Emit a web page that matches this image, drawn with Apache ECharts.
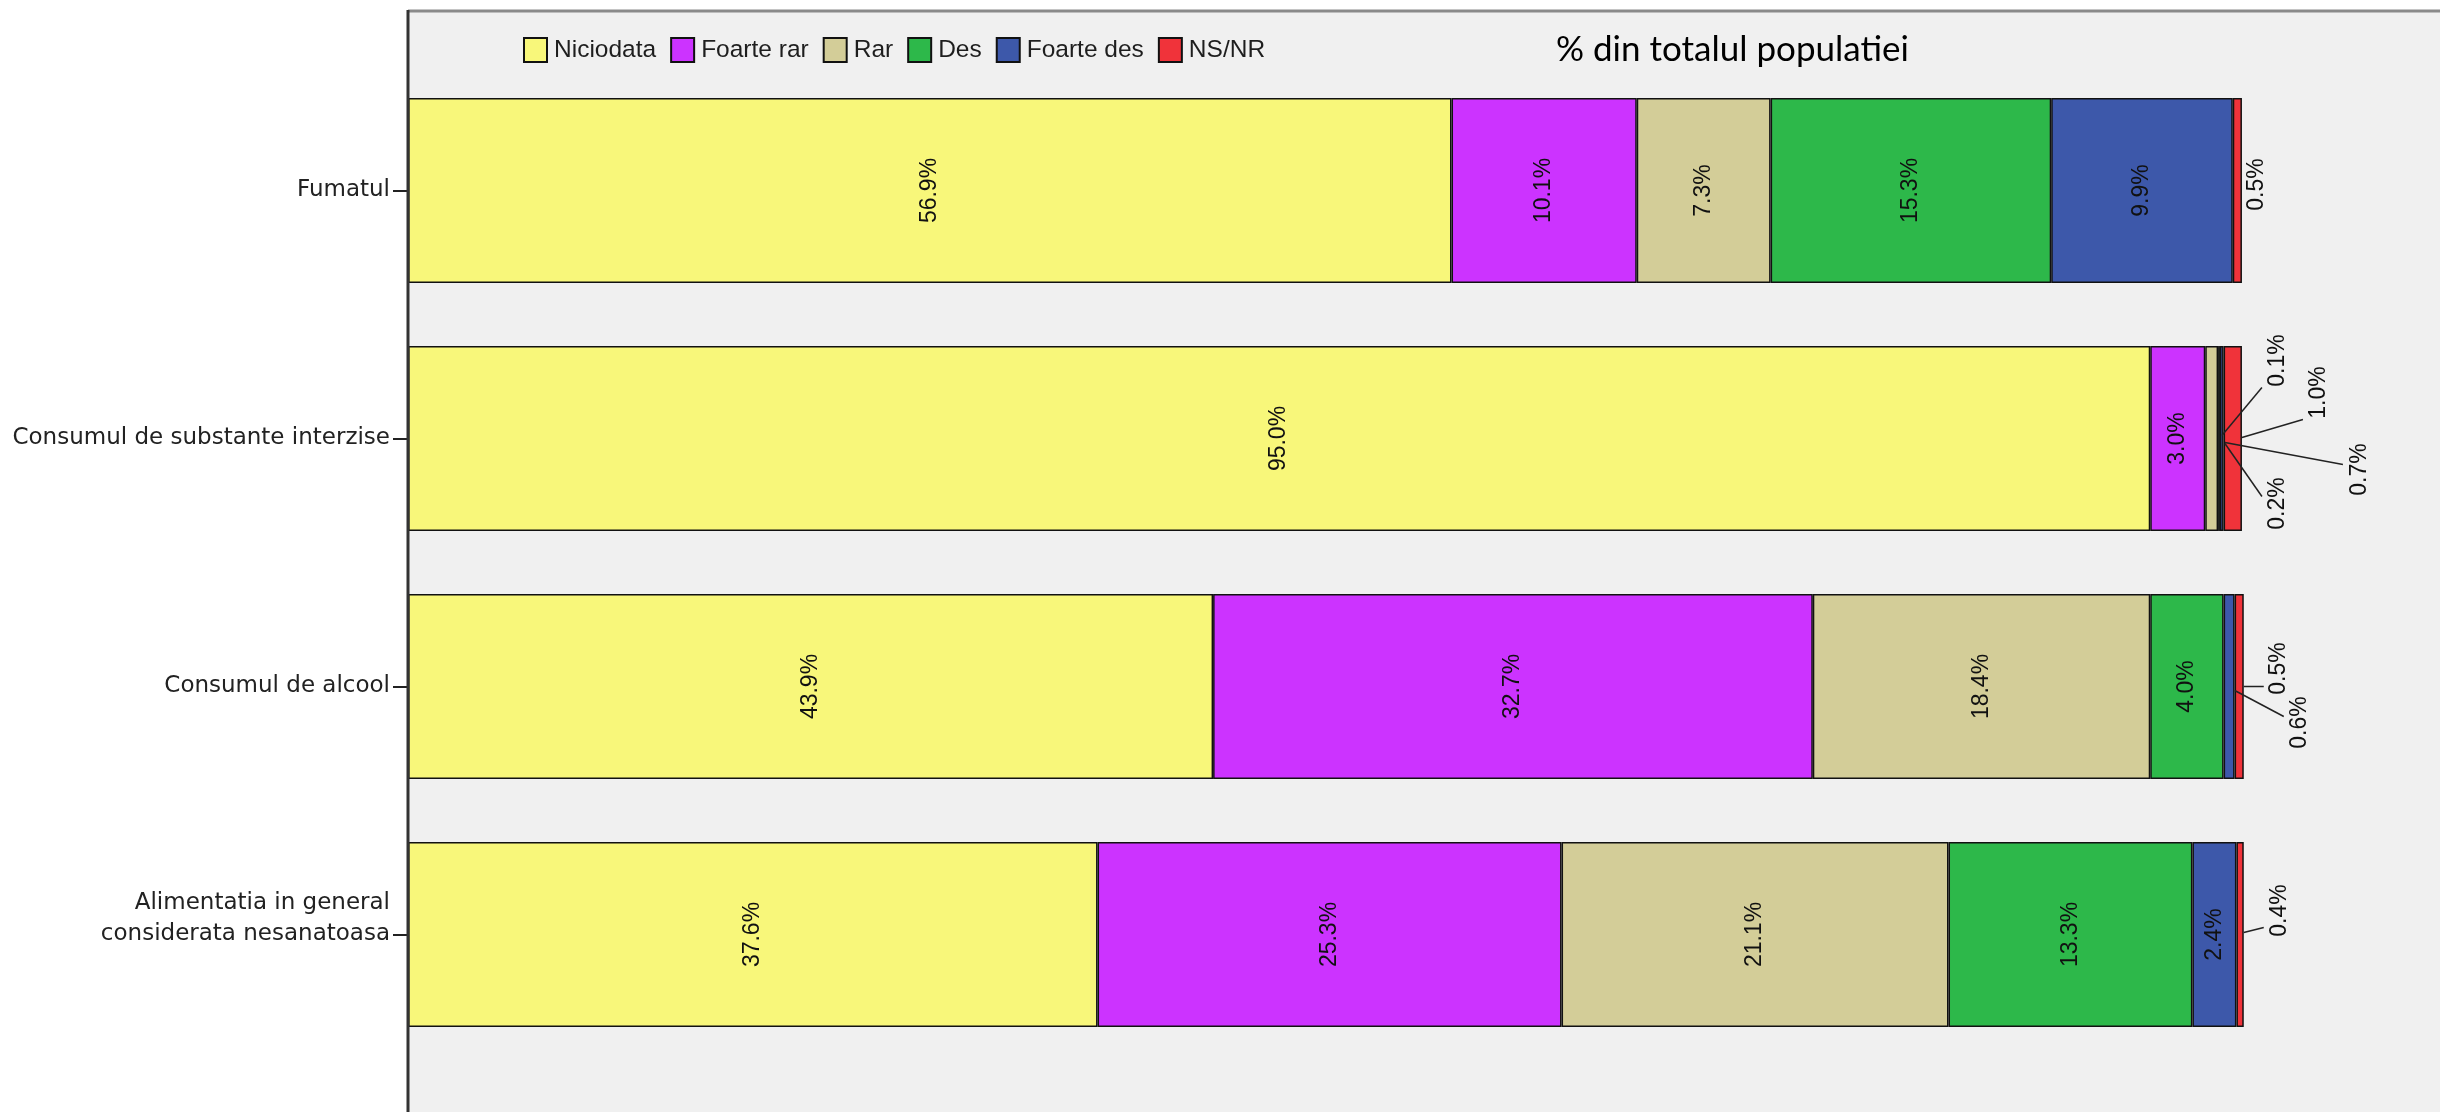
<!DOCTYPE html>
<html>
<head>
<meta charset="utf-8">
<script src="https://cdn.jsdelivr.net/npm/echarts@6/dist/echarts.min.js"></script>
<style>
  html, body { margin: 0; padding: 0; background: #ffffff; }
  #chart { width: 2440px; height: 1112px; }
</style>
</head>
<body>
<div id="chart"></div>
<script>
// ---- data ----
const categories = [
  'Fumatul',
  'Consumul de substante interzise',
  'Consumul de alcool',
  'Alimentatia in general\nconsiderata nesanatoasa'
];
const seriesNames = ['Niciodata', 'Foarte rar', 'Rar', 'Des', 'Foarte des', 'NS/NR'];
const niciodata = [56.9, 95.0, 43.9, 37.6];
const foarteRar = [10.1, 3.0, 32.7, 25.3];
const rar       = [7.3, 0.7, 18.4, 21.1];
const des       = [15.3, 0.1, 4.0, 13.3];
const foarteDes = [9.9, 0.2, 0.6, 2.4];
const nsNr      = [0.5, 1.0, 0.5, 0.4];
const titleText = '% din totalul populatiei';

const seriesValues = [niciodata, foarteRar, rar, des, foarteDes, nsNr];
const colors = ['#f8f77a', '#cc33ff', '#d3cd98', '#2db84a', '#3d58aa', '#f0333a'];

const chart = echarts.init(document.getElementById('chart'), null, { renderer: 'canvas' });

const series = seriesNames.map((name, si) => ({
  name: name,
  type: 'bar',
  stack: 'total',
  barWidth: 185,
  itemStyle: { color: colors[si], borderColor: '#111', borderWidth: 1.5 },
  label: {
    show: true,
    position: 'inside',
    rotate: 90,
    fontSize: 23,
    fontFamily: 'Liberation Sans, Arial, sans-serif',
    color: '#111',
    formatter: (p) => p.value.toFixed(1) + '%'
  },
  emphasis: { disabled: true },
  data: seriesValues[si].map(v => ({ value: v, label: { show: v >= 2 } }))
}));

chart.setOption({
  animation: false,
  backgroundColor: '#ffffff',
  title: {
    text: titleText,
    left: 1556,
    top: 32,
    padding: 0,
    textStyle: { fontSize: 35, fontWeight: 'normal', fontFamily: 'Lato, Liberation Sans, sans-serif', color: '#000' }
  },
  legend: {
    data: seriesNames,
    left: 523,
    top: 37,
    padding: 0,
    icon: 'rect',
    itemWidth: 23,
    itemHeight: 24,
    itemGap: 14,
    selectedMode: false,
    textStyle: { fontSize: 24.5, fontFamily: 'Liberation Sans, Arial, sans-serif', color: '#1e1e1e', padding: [0, 0, 0, 2] }
  },
  grid: { left: 408, right: 0, top: 66.5, height: 992, containLabel: false },
  xAxis: {
    type: 'value',
    min: 0,
    max: 110.8,
    show: false
  },
  yAxis: {
    type: 'category',
    inverse: true,
    data: categories,
    axisLine: { show: false },
    axisTick: { show: true, alignWithLabel: true, length: 15, lineStyle: { color: '#222', width: 2 } },
    axisLabel: {
      margin: 18,
      fontSize: 23,
      lineHeight: 31,
      padding: [8, 0, 0, 0],
      fontFamily: 'DejaVu Sans, sans-serif',
      color: '#222',
      // multi-line labels: keep the last line level with the tick
      formatter: (val) => (val.indexOf('\n') >= 0 ? val + '\n' : val)
    },
    splitLine: { show: false }
  },
  series: series
});

// ---- annotations for the tiny segments (offsets relative to the bar end) ----
const annotations = [
  { c: 0, s: 5, label: [15, -6] },
  { c: 1, s: 2, line: [[-17, 4], [101, 26]], label: [118, 31] },
  { c: 1, s: 3, line: [[-20, -3], [20, -51]], label: [36, -78] },
  { c: 1, s: 4, line: [[-17, 5], [20, 58]], label: [36, 65] },
  { c: 1, s: 5, line: [[0, -1], [61, -19]], label: [77, -46] },
  { c: 2, s: 4, line: [[-9, 4], [40, 30]], label: [56, 36] },
  { c: 2, s: 5, line: [[0, 0], [20, 0]], label: [35, -18] },
  { c: 3, s: 5, line: [[0, -2], [20, -7]], label: [36, -24] }
];

const els = [
  { type: 'rect', z: -10, shape: { x: 408, y: 11, width: 2100, height: 1200 }, style: { fill: '#f0f0f0' } },
  { type: 'line', z: -9, shape: { x1: 408, y1: 11, x2: 2440, y2: 11 }, style: { stroke: '#8a8a8a', lineWidth: 3 } },
  { type: 'line', z: 50, shape: { x1: 408, y1: 10, x2: 408, y2: 1112 }, style: { stroke: '#333', lineWidth: 3 } }
];

annotations.forEach(a => {
  const total = seriesValues.reduce((acc, arr) => acc + arr[a.c], 0);
  const P = chart.convertToPixel({ xAxisIndex: 0, yAxisIndex: 0 }, [total, a.c]);
  const v = seriesValues[a.s][a.c];
  if (a.line) {
    els.push({
      type: 'polyline', z: 100,
      shape: { points: a.line.map(p => [P[0] + p[0], P[1] + p[1]]) },
      style: { stroke: '#222', lineWidth: 1.5, fill: null }
    });
  }
  els.push({
    type: 'text', z: 100,
    x: P[0] + a.label[0], y: P[1] + a.label[1],
    rotation: Math.PI / 2,
    style: {
      text: v.toFixed(1) + '%',
      fontSize: 23,
      fontFamily: 'Liberation Sans, Arial, sans-serif',
      fill: '#111',
      align: 'center',
      verticalAlign: 'middle'
    }
  });
});

chart.setOption({ graphic: els });
</script>
</body>
</html>
